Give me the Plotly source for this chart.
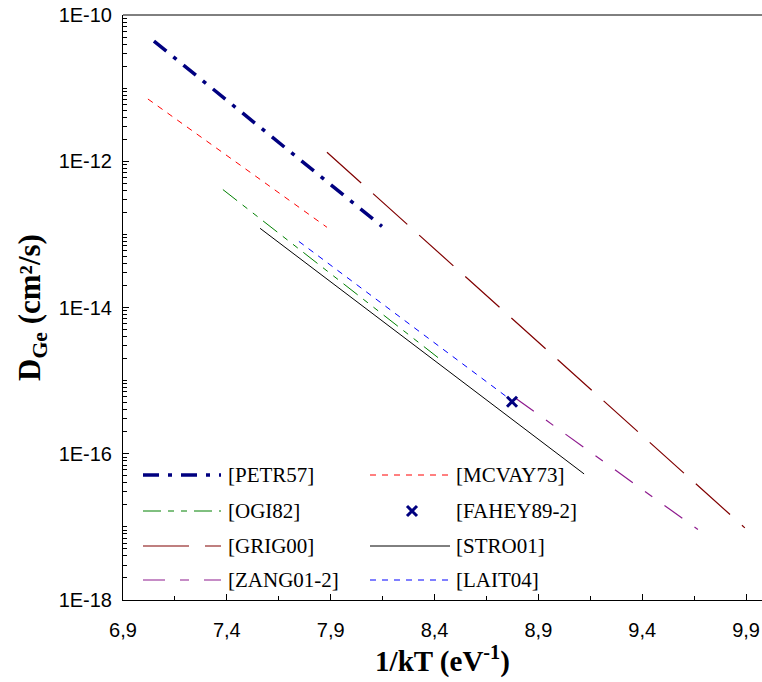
import plotly.graph_objects as go

# ---- data ----
series_names = ["[PETR57]", "[MCVAY73]", "[OGI82]", "[GRIG00]", "[ZANG01-2]", "[STRO01]", "[LAIT04]"]
petr57_x = [7.049, 8.147]
petr57_y = [4.4e-11, 1.29e-13]
mcvay73_x = [7.020, 7.882]
mcvay73_y = [7.1e-12, 1.25e-13]
ogi82_x = [7.381, 8.433]
ogi82_y = [4.1e-13, 1.9e-15]
grig00_x = [7.882, 9.894]
grig00_y = [1.33e-12, 9.7e-18]
zang01_x = [8.792, 9.668]
zang01_y = [5.7e-16, 9.2e-18]
stro01_x = [7.560, 9.120]
stro01_y = [1.21e-13, 5.3e-17]
lait04_x = [7.747, 8.758]
lait04_y = [8.0e-14, 5.7e-16]
fahey_x = [8.773]
fahey_y = [5.15e-16]

x_tickvals = [6.9, 7.4, 7.9, 8.4, 8.9, 9.4, 9.9]
x_ticktext = ["6,9", "7,4", "7,9", "8,4", "8,9", "9,4", "9,9"]
y_tickvals = [1e-10, 1e-12, 1e-14, 1e-16, 1e-18]
y_ticktext = ["1E-10", "1E-12", "1E-14", "1E-16", "1E-18"]

# ---- styles ----
styles = {
    "[PETR57]": dict(color="#000080", width=3.5, dash="16px,9px,4px,9px"),
    "[MCVAY73]": dict(color="#FF0000", width=1, dash="6px,6px"),
    "[OGI82]": dict(color="#008000", width=1, dash="18px,7px,6px,7px,6px,7px"),
    "[GRIG00]": dict(color="#800000", width=1.2, dash="46px,16px"),
    "[ZANG01-2]": dict(color="#8E1A8E", width=1.2, dash="22px,15px,9px,15px"),
    "[STRO01]": dict(color="#000000", width=1, dash="solid"),
    "[LAIT04]": dict(color="#0000FF", width=1, dash="6px,6px"),
}
data_xy = {
    "[PETR57]": (petr57_x, petr57_y),
    "[MCVAY73]": (mcvay73_x, mcvay73_y),
    "[OGI82]": (ogi82_x, ogi82_y),
    "[GRIG00]": (grig00_x, grig00_y),
    "[ZANG01-2]": (zang01_x, zang01_y),
    "[STRO01]": (stro01_x, stro01_y),
    "[LAIT04]": (lait04_x, lait04_y),
}

fig = go.Figure()
for name in series_names:
    xs, ys = data_xy[name]
    fig.add_trace(go.Scatter(x=xs, y=ys, mode="lines", name=name,
                             line=styles[name], showlegend=False, hoverinfo="skip"))
fig.add_trace(go.Scatter(x=fahey_x, y=fahey_y, mode="markers", name="[FAHEY89-2]",
                         marker=dict(symbol="x-thin", size=10, color="#000080",
                                     line=dict(width=3, color="#000080")),
                         showlegend=False))

# ---- layout geometry (page pixels; body margin removed) ----
L, T, B, R = 123, 15, 600, 762
W, H = R - L, B - T
def px(xp):
    return (xp - L) / W
def py(yp):
    return (B - yp) / H

legend_items = [
    ("[PETR57]", 0, 475), ("[MCVAY73]", 1, 475),
    ("[OGI82]", 0, 511), ("[FAHEY89-2]", 1, 511),
    ("[GRIG00]", 0, 546), ("[STRO01]", 1, 546),
    ("[ZANG01-2]", 0, 580), ("[LAIT04]", 1, 580),
]
col_line = {0: (143, 221), 1: (370, 450)}
col_text = {0: 226, 1: 454}
for name, col, yy in legend_items:
    x0, x1 = col_line[col]
    if name in styles:
        st = styles[name]
        fig.add_shape(type="line", xref="paper", yref="paper",
                      x0=px(x0), x1=px(x1), y0=py(yy), y1=py(yy),
                      line=dict(color=st["color"], width=st["width"], dash=st["dash"]))
    else:
        fig.add_trace(go.Scatter(x=[px((x0 + x1) / 2 + 2)], y=[py(yy)], mode="markers",
                                 xaxis="x2", yaxis="y2", showlegend=False, hoverinfo="skip",
                                 marker=dict(symbol="x-thin", size=10, color="#000080",
                                             line=dict(width=3, color="#000080"))))
    fig.add_annotation(x=px(col_text[col]), y=py(yy), xref="paper", yref="paper",
                       text=name, showarrow=False, xanchor="left", yanchor="middle",
                       font=dict(family="Liberation Serif", size=21, color="#000000"))

# top border
fig.add_shape(type="line", xref="paper", yref="paper", x0=0, x1=1, y0=1, y1=1,
              line=dict(color="#000000", width=1))

axis_font = dict(family="Liberation Sans", size=20, color="#000000")
fig.update_layout(
    width=762, height=682,
    margin=dict(l=L, r=0, t=T, b=682 - B, pad=0, autoexpand=False),
    paper_bgcolor="white", plot_bgcolor="white",
    showlegend=False,
    xaxis=dict(range=[6.9, 6.9 + W / 207.7], tickmode="array", tickvals=x_tickvals,
               ticktext=x_ticktext, ticks="inside", ticklen=6, tickcolor="#000",
               showline=True, linecolor="#000", linewidth=1, showgrid=False, zeroline=False,
               tickfont=axis_font, ticklabelstandoff=12, ticklabeloverflow="allow",
               automargin=False,
               minor=dict(dtick=0.25, tick0=6.9, ticks="inside", ticklen=4, tickcolor="#000"),
               title=dict(text="<b>1/kT (eV<sup>-1</sup>)</b>", standoff=8,
                          font=dict(family="Liberation Serif", size=29, color="#000"))),
    yaxis=dict(type="log", range=[-18, -10], tickmode="array", tickvals=y_tickvals,
               ticktext=y_ticktext, ticks="inside", ticklen=6, tickcolor="#000",
               showline=True, linecolor="#000", linewidth=1, showgrid=False, zeroline=False,
               tickfont=axis_font, ticklabelstandoff=6, ticklabeloverflow="allow",
               automargin=False,
               minor=dict(dtick="D1", ticks="inside", ticklen=4, tickcolor="#000"),
               title=dict(text="<b>D<sub>Ge</sub> (cm²/s)</b>", standoff=8,
                          font=dict(family="Liberation Serif", size=31, color="#000"))),
    xaxis2=dict(range=[0, 1], overlaying="x", visible=False, fixedrange=True),
    yaxis2=dict(range=[0, 1], overlaying="y", visible=False, fixedrange=True),
)

fig.write_html("out.html", config={"displayModeBar": False},
               post_script="document.body.style.margin='0';document.body.style.overflow='hidden';")
